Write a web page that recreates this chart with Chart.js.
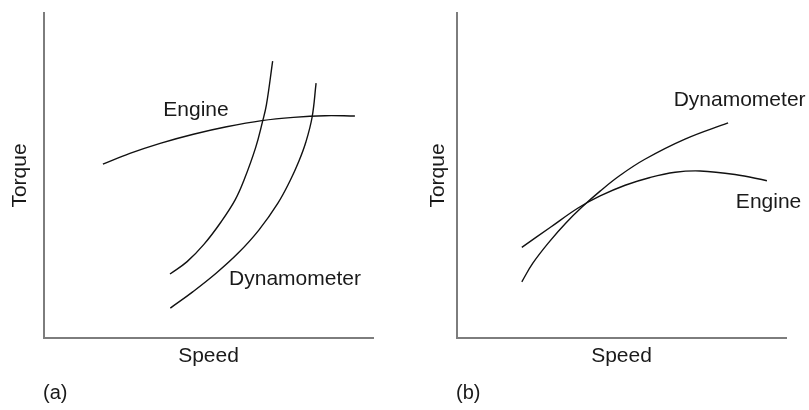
<!DOCTYPE html>
<html>
<head>
<meta charset="utf-8">
<script src="https://cdn.jsdelivr.net/npm/chart.js@4"></script>
<style>
  html, body { margin: 0; padding: 0; background: #fff; }
  .panel { position: absolute; top: 0; width: 404px; height: 410px; }
</style>
</head>
<body>
<div class="panel" style="left:0"><canvas id="chart-a"></canvas></div>
<div class="panel" style="left:405px"><canvas id="chart-b"></canvas></div>
<script>
// (a) engine curve crossed by two dynamometer curves
const engineSpeedA = [17.9, 26.1, 35.3, 45.4, 55.5, 66.2, 75.8, 85.4, 94.5];
const engineTorqueA = [53.5, 56.8, 59.9, 62.7, 65.0, 66.9, 67.9, 68.4, 68.3];
const dyno1SpeedA = [38.3, 43.5, 48.6, 53.8, 58.1, 60.8, 64.3, 66.4, 67.6, 69.5];
const dyno1TorqueA = [19.7, 23.5, 28.8, 35.7, 42.5, 48.6, 58.5, 66.5, 71.7, 85.2];
const dyno2SpeedA = [38.4, 45.2, 52.4, 59.1, 65.3, 71.1, 74.9, 77.4, 79.6, 81.5, 82.7];
const dyno2TorqueA = [9.2, 14.2, 20.0, 26.2, 33.2, 41.5, 48.6, 54.2, 60.3, 68.0, 78.4];

// (b) engine and dynamometer curves meeting once
const engineSpeedB = [19.7, 28.3, 36.8, 43.5, 51.1, 58.7, 66.3, 73.9, 84.5, 94.2];
const engineTorqueB = [27.9, 34.0, 40.0, 43.7, 47.0, 49.4, 51.0, 51.4, 50.3, 48.4];
const dynoSpeedB = [19.7, 23.1, 28.3, 33.1, 38.0, 43.5, 49.5, 57.1, 69.3, 82.4];
const dynoTorqueB = [17.3, 23.1, 29.9, 35.4, 40.3, 45.2, 50.0, 55.0, 61.2, 66.2];

// curve names, anchored in speed/torque units
const curveLabelsA = [
  { text: 'Engine', x: 46.2, y: 70.2 },
  { text: 'Dynamometer', x: 76.3, y: 18.2 }
];
const curveLabelsB = [
  { text: 'Dynamometer', x: 85.9, y: 73.2 },
  { text: 'Engine', x: 94.7, y: 41.8 }
];

const FONT = '"Liberation Sans", Arial, Helvetica, sans-serif';
const INK = '#1a1a1a';

const toPoints = (xs, ys) => xs.map((x, i) => ({ x: x, y: ys[i] }));

const curve = (xs, ys) => ({
  data: toPoints(xs, ys),
  showLine: true,
  pointRadius: 0,
  borderColor: '#111',
  borderWidth: 1.4,
  tension: 0.4,
  fill: false
});

// draws the curve names and the panel tag under the axes
const curveLabels = {
  id: 'curveLabels',
  afterDatasetsDraw(chart, args, opts) {
    const { ctx, chartArea, scales: { x, y } } = chart;
    ctx.save();
    ctx.font = '21px ' + FONT;
    ctx.fillStyle = INK;
    ctx.textAlign = 'center';
    ctx.textBaseline = 'middle';
    opts.labels.forEach(l => {
      ctx.fillText(l.text, x.getPixelForValue(l.x), y.getPixelForValue(l.y));
    });
    ctx.textAlign = 'left';
    ctx.font = '20px ' + FONT;
    ctx.fillText(opts.tag, chartArea.left - 1, opts.tagY);
    ctx.restore();
  }
};

function makePanel(id, datasets, labels, tag, axisWidth, torquePad, rightPad) {
  const axisBorder = { display: true, color: '#7d7d7d', width: 2 };
  const titleFont = { family: FONT, size: 21, lineHeight: 1 };
  return new Chart(document.getElementById(id), {
    type: 'scatter',
    data: { datasets: datasets },
    options: {
      responsive: true,
      maintainAspectRatio: false,
      animation: false,
      events: [],
      layout: { padding: { top: 13, right: rightPad, bottom: 43.5, left: 0 } },
      scales: {
        x: {
          min: 0,
          max: 100,
          grid: { display: false },
          ticks: { display: false },
          border: axisBorder,
          title: { display: true, text: 'Speed', color: INK, font: titleFont, padding: 0 },
          afterFit: scale => { scale.height = 28.5; }
        },
        y: {
          min: 0,
          max: 100,
          grid: { display: false },
          ticks: { display: false },
          border: axisBorder,
          title: { display: true, text: 'Torque', color: INK, font: titleFont, padding: { top: torquePad, bottom: 0 } },
          afterFit: scale => { scale.width = axisWidth; }
        }
      },
      plugins: {
        legend: { display: false },
        tooltip: { enabled: false },
        curveLabels: { labels: labels, tag: tag, tagY: 393 }
      }
    },
    plugins: [curveLabels]
  });
}

makePanel('chart-a', [
  curve(engineSpeedA, engineTorqueA),
  curve(dyno1SpeedA, dyno1TorqueA),
  curve(dyno2SpeedA, dyno2TorqueA)
], curveLabelsA, '(a)', 44, 9.5, 31);

makePanel('chart-b', [
  curve(engineSpeedB, engineTorqueB),
  curve(dynoSpeedB, dynoTorqueB)
], curveLabelsB, '(b)', 52, 22.5, 23);
</script>
</body>
</html>
